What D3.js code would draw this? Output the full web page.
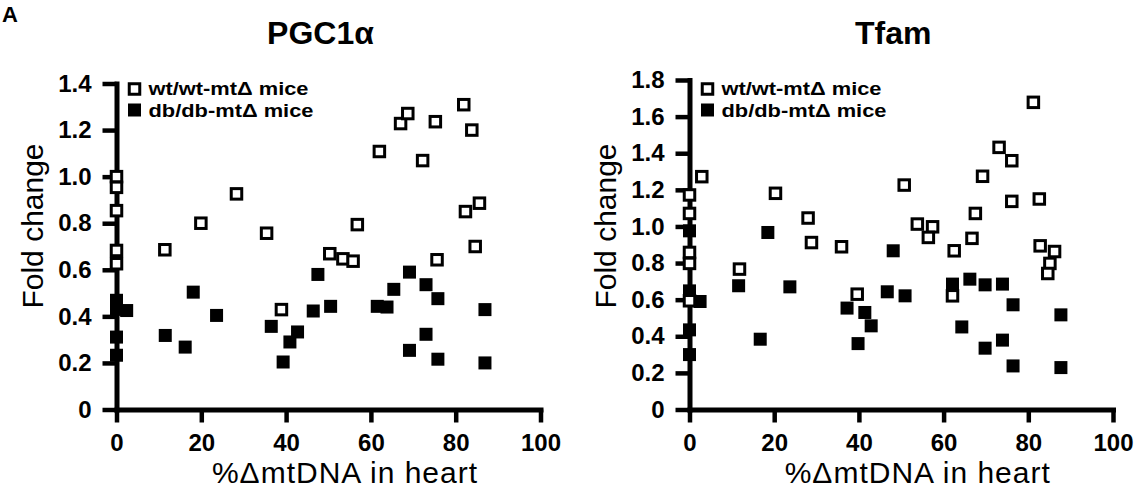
<!DOCTYPE html>
<html><head><meta charset="utf-8">
<script src="https://cdn.jsdelivr.net/npm/d3@7"></script>
<style>
body{margin:0;background:#fff;}
svg text{font-family:"Liberation Sans",Arial,Helvetica,sans-serif;fill:#000;}
</style></head><body>
<script>
// ---- data ----
const xTicks = [0, 20, 40, 60, 80, 100];
const pgcYTicks = [0, 0.2, 0.4, 0.6, 0.8, 1.0, 1.2, 1.4];
const tfamYTicks = [0, 0.2, 0.4, 0.6, 0.8, 1.0, 1.2, 1.4, 1.6, 1.8];
const titles = ["PGC1α", "Tfam"];
const legendLabels = ["wt/wt-mtΔ mice", "db/db-mtΔ mice"];
const xLabel = "%ΔmtDNA in heart";
const yLabel = "Fold change";
const panelLetter = "A";

// [ %ΔmtDNA, fold change ]
const pgcWt = [[0,1.0],[0,0.954],[0,0.854],[0,0.683],[0,0.626],[11.4,0.686],[19.9,0.80],[28.3,0.926],[35.4,0.757],[38.9,0.429],[50.3,0.669],[53.4,0.647],[55.8,0.637],[56.8,0.794],[62.0,1.108],[67.0,1.228],[68.7,1.271],[72.2,1.069],[75.2,1.236],[75.6,0.643],[81.9,1.309],[83.8,1.20],[82.3,0.85],[85.6,0.886],[84.6,0.70]];
const pgcDb = [[0,0.469],[0,0.43],[2.4,0.425],[0,0.311],[0,0.233],[11.5,0.318],[16.2,0.268],[18.1,0.504],[23.6,0.404],[36.5,0.357],[40.9,0.29],[42.7,0.333],[39.3,0.204],[46.4,0.423],[47.5,0.58],[50.5,0.443],[61.5,0.443],[63.8,0.44],[65.4,0.516],[69.1,0.59],[69.1,0.254],[73.0,0.536],[73.0,0.323],[75.8,0.476],[75.8,0.216],[86.9,0.429],[86.9,0.20]];
const tfamWt = [[0,1.172],[0,1.071],[0,0.858],[0,0.798],[0,0.594],[2.9,1.272],[11.8,0.767],[20.3,1.181],[28.0,1.046],[28.8,0.912],[35.9,0.889],[39.6,0.63],[50.7,1.226],[53.8,1.013],[57.4,0.998],[56.4,0.94],[62.5,0.867],[62.1,0.621],[66.7,0.935],[67.5,1.071],[69.2,1.274],[73.1,1.432],[76.1,1.359],[76.1,1.137],[81.2,1.678],[82.6,1.15],[82.8,0.894],[86.2,0.863],[85.1,0.798],[84.6,0.743]];
const tfamDb = [[0,0.976],[0,0.648],[2.5,0.59],[0,0.435],[0,0.30],[18.5,0.967],[11.6,0.676],[23.7,0.67],[16.7,0.384],[48.1,0.867],[46.7,0.643],[50.9,0.621],[37.2,0.554],[41.4,0.53],[42.9,0.457],[39.8,0.36],[62.1,0.685],[66.2,0.712],[69.8,0.681],[73.9,0.685],[76.4,0.572],[64.3,0.451],[69.8,0.335],[73.9,0.379],[76.4,0.238],[87.7,0.517],[87.7,0.229]];

// ---- drawing ----
const svg = d3.select("body").append("svg").attr("width", 1144).attr("height", 495);

svg.append("text").attr("x", 2).attr("y", 22).attr("font-size", 22).attr("font-weight", "bold").text(panelLetter);

const panels = [
  {title: titles[0], wt: pgcWt, db: pgcDb, yTicks: pgcYTicks, ymax: 1.4, left: 116.5, right: 540.5, top: 83.5, bottom: 409.5},
  {title: titles[1], wt: tfamWt, db: tfamDb, yTicks: tfamYTicks, ymax: 1.8, left: 689.5, right: 1113, top: 80, bottom: 409.5}
];

panels.forEach(p => {
  const x = d3.scaleLinear().domain([0, 100]).range([p.left, p.right]);
  const y = d3.scaleLinear().domain([0, p.ymax]).range([p.bottom, p.top]);
  const g = svg.append("g");

  const xa = g.append("g").attr("transform", `translate(0,${p.bottom})`)
    .call(d3.axisBottom(x).tickValues(xTicks).tickSize(13).tickSizeOuter(0).tickPadding(11));
  const ya = g.append("g").attr("transform", `translate(${p.left},0)`)
    .call(d3.axisLeft(y).tickValues(p.yTicks).tickSize(14).tickSizeOuter(0).tickPadding(11)
      .tickFormat(d => d === 0 ? "0" : d3.format(".1f")(d)));
  [xa, ya].forEach(a => {
    a.select(".domain").attr("stroke", "#000").attr("stroke-width", 5).attr("stroke-linecap", "square");
    a.selectAll(".tick line").attr("stroke", "#000").attr("stroke-width", 4.5);
    a.selectAll(".tick text").attr("font-size", 24).attr("font-weight", "bold").attr("fill", "#000");
  });

  // filled (db/db) markers
  g.append("g").selectAll("rect").data(p.db).join("rect")
    .attr("x", d => x(d[0]) - 6.5).attr("y", d => y(d[1]) - 6.5)
    .attr("width", 13).attr("height", 13).attr("fill", "#000");
  // open (wt/wt) markers
  g.append("g").selectAll("rect").data(p.wt).join("rect")
    .attr("x", d => x(d[0]) - 5.25).attr("y", d => y(d[1]) - 5.25)
    .attr("width", 10.5).attr("height", 10.5).attr("fill", "#fff")
    .attr("stroke", "#000").attr("stroke-width", 3);

  // legend
  const lg = g.append("g").attr("transform", `translate(${p.left + 18},0)`);
  lg.append("rect").attr("x", -5.25).attr("y", 89 - 5.25).attr("width", 10.5).attr("height", 10.5)
    .attr("fill", "#fff").attr("stroke", "#000").attr("stroke-width", 3);
  lg.append("rect").attr("x", -6.5).attr("y", 110 - 6.5).attr("width", 13).attr("height", 13).attr("fill", "#000");
  lg.append("text").attr("x", 14).attr("y", 95).attr("font-size", 18).attr("font-weight", "bold")
    .attr("textLength", 160).attr("lengthAdjust", "spacingAndGlyphs").text(legendLabels[0]);
  lg.append("text").attr("x", 14).attr("y", 117).attr("font-size", 18).attr("font-weight", "bold")
    .attr("textLength", 165).attr("lengthAdjust", "spacingAndGlyphs").text(legendLabels[1]);

  const cx = (p.left + p.right) / 2;
  g.append("text").attr("x", cx - 8).attr("y", 44).attr("text-anchor", "middle")
    .attr("font-size", 32).attr("font-weight", "bold").text(p.title);
  g.append("text").attr("x", cx + 16.5).attr("y", 483).attr("text-anchor", "middle")
    .attr("font-size", 30).attr("letter-spacing", 1).text(xLabel);
  g.append("text").attr("transform", `translate(${p.left - 74},226) rotate(-90)`)
    .attr("text-anchor", "middle").attr("font-size", 30).text(yLabel);
});
</script>
</body></html>
